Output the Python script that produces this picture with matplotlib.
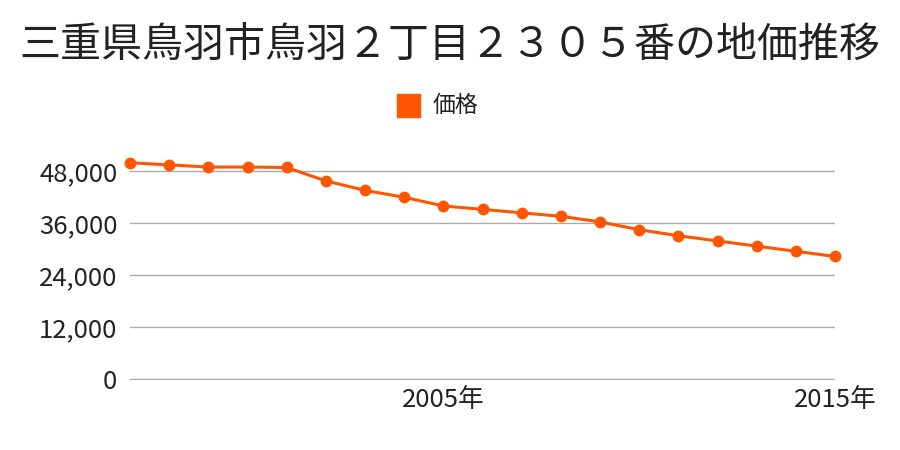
import matplotlib
matplotlib.use("Agg")
import matplotlib.pyplot as plt
from matplotlib.patches import Rectangle

plt.rcParams["font.family"] = ["Noto Sans CJK JP", "DejaVu Sans"]

TITLE = "三重県鳥羽市鳥羽２丁目２３０５番の地価推移"
SERIES_NAME = "価格"
years = list(range(1997, 2016))
prices = [50000, 49500, 49000, 49000, 48900, 45800, 43600, 42000, 40000,
          39200, 38400, 37600, 36300, 34500, 33100, 31900, 30700, 29500, 28300]
yticks = [0, 12000, 24000, 36000, 48000]
xticks = [2005, 2015]
xtick_labels = ["2005年", "2015年"]

COLOR = "#ff5500"
W, H = 900, 450

fig = plt.figure(figsize=(9, 4.5), dpi=100)
ax = fig.add_axes([130 / W, 1 - 380 / H, (835 - 130) / W, (380 - 150) / H])

ax.plot(years, prices, color=COLOR, lw=2.2, marker="o", ms=7.5, clip_on=False, zorder=3)

ax.set_xlim(1997, 2015)
ax.set_ylim(-300, 48000 * 230 / 208.5)
ax.set_yticks(yticks)
ax.set_yticklabels([f"{v:,}" for v in yticks])
ax.set_xticks(xticks)
ax.set_xticklabels(xtick_labels)
ax.tick_params(length=0, labelsize=18.5, colors="#222222")
ax.tick_params(axis="y", pad=9)
ax.tick_params(axis="x", pad=5)
ax.grid(axis="y", color="#aaaaaa", lw=1)
ax.set_axisbelow(True)
for s in ax.spines.values():
    s.set_visible(False)

fig.text(0.5, 1 - 45 / H, TITLE, ha="center", va="center", fontsize=29.5, color="#222222")

# legend
fig.patches.append(Rectangle((397 / W, 1 - 117 / H), 23 / W, 23 / H,
                             transform=fig.transFigure, color=COLOR))
fig.text(433 / W, 1 - 105 / H, SERIES_NAME, ha="left", va="center", fontsize=16.5, color="#222222")

fig.savefig("out.png", dpi=100)
